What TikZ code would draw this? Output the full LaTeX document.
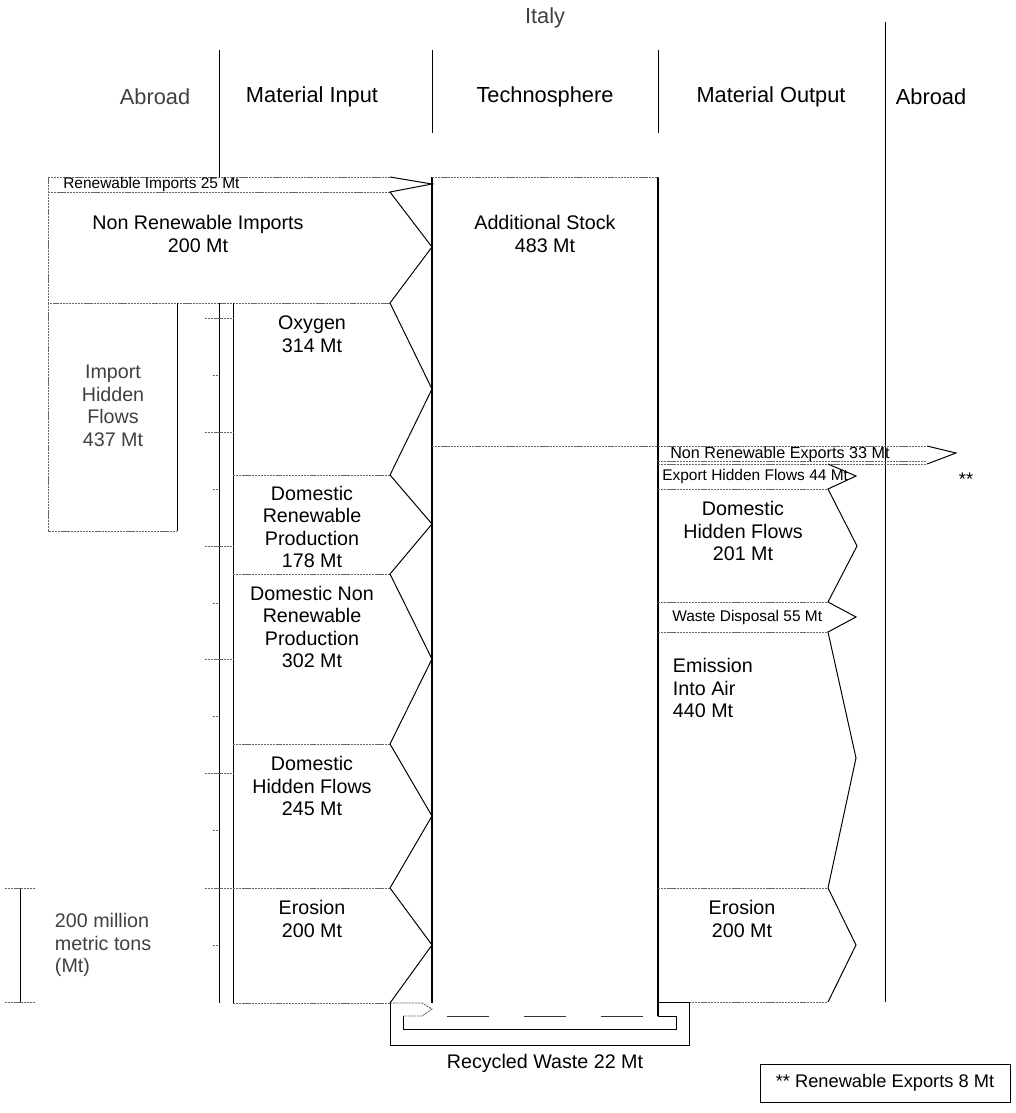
\documentclass[tikz,border=0pt]{standalone}
\usepackage{fontspec}
\setmainfont{Liberation Sans}
\usetikzlibrary{calc}

\begin{document}
\begin{tikzpicture}[x=0.025cm, y=-0.025cm,
    edge/.style={draw=black!60, dash pattern=on 1.6pt off 0.6pt, line width=0.6pt},
    tip/.style={draw=black, line width=0.7pt},
    faint/.style={text=black!75},
    lbl/.style={font=\fontsize{14}{16}\selectfont, align=center},
    small/.style={font=\fontsize{11}{13}\selectfont, anchor=west, inner sep=0pt},
    head/.style={font=\fontsize{15.5}{18}\selectfont}]
    \useasboundingbox (0,0) rectangle (1016,1113);

    % Header
    \node[head, faint] (italy) at (545,18) {Italy};
    \draw[line width=0.7pt] (219,50) -- (219,177);
    \draw[line width=0.7pt] (432,50) -- (432,133);
    \draw[line width=0.7pt] (658,50) -- (658,133);
    \draw[line width=0.7pt] (885,22) -- (885,1002);
    \node[head, faint] (abroadL) at (155,97) {Abroad};
    \node[head] (inputH) at (312,97) {Material Input};
    \node[head] (technoH) at (545,97) {Technosphere};
    \node[head] (outputH) at (771,97) {Material Output};
    \node[head] (abroadR) at (931,97) {Abroad};

    % Imports
    \draw[edge] (390,177) -- (48,177) -- (48,303) -- (390,303);
    \draw[edge] (48,192) -- (390,192);
    \node[small] (renimp) at (63,184) {Renewable Imports 25 Mt};
    \node[lbl] (nonrenimp) at (198,234) {Non Renewable Imports\\200 Mt};

    % Import hidden flows
    \draw[edge] (48,303) -- (48,531) -- (177,531);
    \draw[line width=0.6pt] (177,303) -- (177,531);
    \node[lbl, faint] (imphidden) at (113,406) {Import\\Hidden\\Flows\\437 Mt};

    % Domestic input column with scale ticks
    \draw[line width=0.7pt] (219,303) -- (219,1003);
    \draw[line width=0.7pt] (233,303) -- (233,1003);
    \foreach \y in {888,773,659,546,432,318}
        \draw[edge] (205,\y) -- (233,\y);
    \foreach \y in {945,830,716,603,489,375}
        \draw[edge] (213,\y) -- (219,\y);
    \foreach \y in {475,574,744,888,1003}
        \draw[edge] (233,\y) -- (390,\y);
    \node[lbl] (oxygen) at (312,334) {Oxygen\\314 Mt};
    \node[lbl] (domren) at (312,527) {Domestic\\Renewable\\Production\\178 Mt};
    \node[lbl] (domnonren) at (312,627) {Domestic Non\\Renewable\\Production\\302 Mt};
    \node[lbl] (domhidden) at (312,786) {Domestic\\Hidden Flows\\245 Mt};
    \node[lbl] (erosionIn) at (312,919) {Erosion\\200 Mt};

    % Input arrow heads
    \draw[tip] (390,177) -- (432,184) -- (390,192) -- (432,247) -- (390,303)
        -- (432,389) -- (390,475) -- (432,524) -- (390,574) -- (432,659)
        -- (390,744) -- (432,816) -- (390,888) -- (432,945) -- (390,1003);

    % Technosphere
    \draw[line width=1.3pt] (432,177) -- (432,1003);
    \draw[line width=0.9pt] (658,177) -- (658,1016);
    \draw[edge] (432,177) -- (658,177);
    \draw[edge] (432,446) -- (658,446);
    \draw[line width=0.6pt, black!80, dash pattern=on 1.05cm off 0.875cm] (447,1016) -- (643,1016);
    \node[lbl] (stock) at (545,234) {Additional Stock\\483 Mt};

    % Exports
    \draw[edge] (658,446) -- (927,446);
    \draw[edge] (658,461) -- (927,461);
    \draw[edge] (658,464) -- (927,464);
    \draw[tip] (927,446) -- (956,453) -- (927,464);
    \node[small, font=\fontsize{11.5}{14}\selectfont] (nonrenexp) at (670,454) {Non Renewable Exports 33 Mt};
    \node[font=\fontsize{13}{15}\selectfont] (stars) at (966,479) {**};

    % Material output
    \foreach \y in {464,489,602,632,888,1002}
        \draw[edge] (658,\y) -- (828,\y);
    \draw[tip] (828,464) -- (856,476) -- (828,489) -- (857,546) -- (828,602)
        -- (856,617) -- (828,632) -- (856,758) -- (828,888) -- (856,945) -- (828,1002);
    \node[small] (exphidden) at (662,476) {Export Hidden Flows 44 Mt};
    \node[lbl] (domhiddenOut) at (743,531) {Domestic\\Hidden Flows\\201 Mt};
    \node[small] (waste) at (672,617) {Waste Disposal 55 Mt};
    \node[lbl, align=left, anchor=west] (emission) at (668,688) {Emission\\Into Air\\440 Mt};
    \node[lbl] (erosionOut) at (742,919) {Erosion\\200 Mt};

    % Recycled waste
    \draw[edge] (390,1003) -- (422,1003) -- (432,1009) -- (422,1016) -- (403,1016);
    \draw[line width=0.6pt] (403,1016) -- (403,1029) -- (676,1029) -- (676,1016) -- (658,1016);
    \draw[line width=0.6pt] (390,1003) -- (390,1045) -- (689,1045) -- (689,1002) -- (658,1002);
    \node[lbl] (recycled) at (545,1063) {Recycled Waste 22 Mt};

    % Scale bar
    \draw[line width=0.7pt] (20,888) -- (20,1002);
    \draw[edge] (5,888) -- (35,888);
    \draw[edge] (5,1002) -- (35,1002);
    \node[lbl, faint, align=left, anchor=west] (scale) at (50,945) {200 million\\metric tons\\(Mt)};

    % Note
    \node[draw, line width=0.6pt, font=\fontsize{13}{15}\selectfont,
        minimum width=6.25cm, minimum height=0.95cm] (note) at (885,1083) {** Renewable Exports 8 Mt};
\end{tikzpicture}
\end{document}
